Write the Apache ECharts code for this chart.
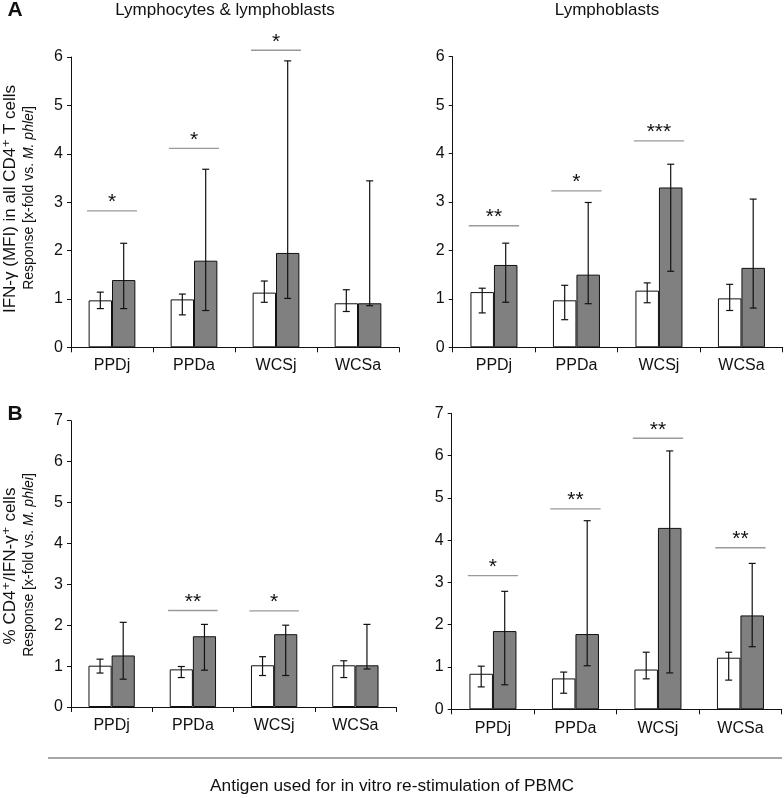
<!DOCTYPE html>
<html>
<head>
<meta charset="utf-8">
<script src="https://cdn.jsdelivr.net/npm/echarts@6/dist/echarts.min.js"></script>
<style>
  html, body { margin: 0; padding: 0; background: #fff; }
  #chart { width: 784px; height: 798px; }
</style>
</head>
<body>
<div id="chart"></div>
<script>
// categories (antigens)
const categories = ['PPDj', 'PPDa', 'WCSj', 'WCSa']
const ticksA = [0, 1, 2, 3, 4, 5, 6]
const ticksB = [0, 1, 2, 3, 4, 5, 6, 7]

// A, lymphocytes & lymphoblasts
const aLeftCtrl = [0.97, 0.99, 1.13, 0.91]
const aLeftCtrlLo = [0.80, 0.67, 0.93, 0.74]
const aLeftCtrlHi = [1.14, 1.10, 1.37, 1.19]
const aLeftAg = [1.39, 1.79, 1.95, 0.91]
const aLeftAgLo = [0.80, 0.76, 1.01, 0.86]
const aLeftAgHi = [2.15, 3.68, 5.92, 3.44]
const aLeftSigLevel = [2.82, 4.11, 6.14, null]
const aLeftSigMark = ['*', '*', '*', '']

// A, lymphoblasts
const aRightCtrl = [1.14, 0.97, 1.17, 1.01]
const aRightCtrlLo = [0.71, 0.57, 0.92, 0.76]
const aRightCtrlHi = [1.22, 1.28, 1.33, 1.30]
const aRightAg = [1.70, 1.50, 3.30, 1.64]
const aRightAgLo = [0.93, 0.90, 1.57, 0.81]
const aRightAgHi = [2.15, 2.99, 3.78, 3.06]
const aRightSigLevel = [2.51, 3.23, 4.26, null]
const aRightSigMark = ['**', '*', '***', '']

// B, lymphocytes & lymphoblasts
const bLeftCtrl = [1.01, 0.92, 1.02, 1.02]
const bLeftCtrlLo = [0.83, 0.72, 0.77, 0.72]
const bLeftCtrlHi = [1.17, 0.99, 1.23, 1.13]
const bLeftAg = [1.26, 1.73, 1.78, 1.02]
const bLeftAgLo = [0.68, 0.90, 0.77, 0.93]
const bLeftAgHi = [2.07, 2.02, 2.00, 2.02]
const bLeftSigLevel = [null, 2.36, 2.35, null]
const bLeftSigMark = ['', '**', '*', '']

// B, lymphoblasts
const bRightCtrl = [0.84, 0.73, 0.94, 1.22]
const bRightCtrlLo = [0.53, 0.38, 0.72, 0.69]
const bRightCtrlHi = [1.02, 0.88, 1.35, 1.35]
const bRightAg = [1.85, 1.78, 4.29, 2.22]
const bRightAgLo = [0.58, 1.03, 0.86, 1.48]
const bRightAgHi = [2.79, 4.46, 6.11, 3.45]
const bRightSigLevel = [3.16, 4.74, 6.41, 3.82]
const bRightSigMark = ['*', '**', '**', '**']

const FONT = '"Liberation Sans", Arial, "DejaVu Sans", sans-serif'
const BAR_FRAC = 0.285   // one bar as share of the category width

const myChart = echarts.init(document.getElementById('chart'))

// one bar pair + error bars + significance lines for a panel
function panelSeries (idx, ctrl, ctrlLo, ctrlHi, ag, agLo, agHi, sigLevel, sigMark) {
  const errData = []
  categories.forEach((c, i) => {
    errData.push([i, ctrlLo[i], ctrlHi[i], -1])
    errData.push([i, agLo[i], agHi[i], 1])
  })
  const sigData = []
  const sigText = []
  sigLevel.forEach((v, i) => {
    if (v !== null) {
      sigData.push([i, v])
      sigText.push(sigMark[i])
    }
  })
  return [
    {
      type: 'bar',
      xAxisIndex: idx,
      yAxisIndex: idx,
      data: ctrl,
      barGap: '0%',
      barCategoryGap: '43%',
      itemStyle: { color: '#ffffff', borderColor: '#111', borderWidth: 1 },
      silent: true
    },
    {
      type: 'bar',
      xAxisIndex: idx,
      yAxisIndex: idx,
      data: ag,
      barGap: '0%',
      barCategoryGap: '43%',
      itemStyle: { color: '#808080', borderColor: '#111', borderWidth: 1 },
      silent: true
    },
    {
      type: 'custom',
      xAxisIndex: idx,
      yAxisIndex: idx,
      data: errData,
      silent: true,
      z: 5,
      renderItem: function (params, api) {
        const cat = api.value(0)
        const bw = api.size([1, 0])[0]
        const x = api.coord([cat, 0])[0] + api.value(3) * bw * BAR_FRAC / 2
        const yLo = api.coord([cat, api.value(1)])[1]
        const yHi = api.coord([cat, api.value(2)])[1]
        const cap = 3.5
        const st = { stroke: '#111', lineWidth: 1.2 }
        return {
          type: 'group',
          children: [
            { type: 'line', shape: { x1: x, y1: yLo, x2: x, y2: yHi }, style: st },
            { type: 'line', shape: { x1: x - cap, y1: yLo, x2: x + cap, y2: yLo }, style: st },
            { type: 'line', shape: { x1: x - cap, y1: yHi, x2: x + cap, y2: yHi }, style: st }
          ]
        }
      }
    },
    {
      type: 'custom',
      xAxisIndex: idx,
      yAxisIndex: idx,
      data: sigData,
      silent: true,
      clip: false,
      z: 5,
      renderItem: function (params, api) {
        const cat = api.value(0)
        const bw = api.size([1, 0])[0]
        const p = api.coord([cat, api.value(1)])
        const half = bw * 0.305
        return {
          type: 'group',
          children: [
            { type: 'line', shape: { x1: p[0] - half, y1: p[1], x2: p[0] + half, y2: p[1] },
              style: { stroke: '#9a9a9a', lineWidth: 1.3 } },
            { type: 'text', x: p[0], y: p[1] - 19,
              style: { text: sigText[params.dataIndex], font: '21px ' + FONT, fill: '#111',
                align: 'center', verticalAlign: 'top' } }
          ]
        }
      }
    }
  ]
}

const grids = [
  { left: 71, top: 57, width: 328, height: 290.3 },
  { left: 452.7, top: 56.7, width: 330, height: 290.6 },
  { left: 71, top: 420.7, width: 325, height: 286.3 },
  { left: 451.7, top: 413.3, width: 330, height: 296 }
]

const xAxes = grids.map((g, i) => ({
  type: 'category',
  gridIndex: i,
  data: categories,
  axisLine: { lineStyle: { color: '#111', width: 1 } },
  axisTick: { show: true, length: 5, lineStyle: { color: '#111' } },
  axisLabel: { color: '#111', fontSize: 16, fontFamily: FONT, margin: i < 2 ? 10 : 11 }
}))

const yAxes = grids.map((g, i) => {
  const t = i < 2 ? ticksA : ticksB
  return {
    type: 'value',
    gridIndex: i,
    min: t[0],
    max: t[t.length - 1],
    interval: 1,
    splitLine: { show: false },
    axisLine: { show: true, lineStyle: { color: '#111', width: 1 } },
    axisTick: { show: true, length: 4, lineStyle: { color: '#111' } },
    axisLabel: { color: '#111', fontSize: 16, fontFamily: FONT, margin: 8 }
  }
})

const series = [].concat(
  panelSeries(0, aLeftCtrl, aLeftCtrlLo, aLeftCtrlHi, aLeftAg, aLeftAgLo, aLeftAgHi, aLeftSigLevel, aLeftSigMark),
  panelSeries(1, aRightCtrl, aRightCtrlLo, aRightCtrlHi, aRightAg, aRightAgLo, aRightAgHi, aRightSigLevel, aRightSigMark),
  panelSeries(2, bLeftCtrl, bLeftCtrlLo, bLeftCtrlHi, bLeftAg, bLeftAgLo, bLeftAgHi, bLeftSigLevel, bLeftSigMark),
  panelSeries(3, bRightCtrl, bRightCtrlLo, bRightCtrlHi, bRightAg, bRightAgLo, bRightAgHi, bRightSigLevel, bRightSigMark)
)

const richLabel = {
  i: { fontStyle: 'italic', fontSize: 14, fontFamily: FONT, fill: '#111' }
}

myChart.setOption({
  animation: false,
  backgroundColor: '#ffffff',
  grid: grids,
  xAxis: xAxes,
  yAxis: yAxes,
  series: series,
  graphic: [
    { type: 'text', x: 15, y: 10,
      style: { text: 'A', font: 'bold 21px ' + FONT, fill: '#111', align: 'center', verticalAlign: 'middle' } },
    { type: 'text', x: 15, y: 414,
      style: { text: 'B', font: 'bold 21px ' + FONT, fill: '#111', align: 'center', verticalAlign: 'middle' } },
    { type: 'text', x: 225, y: 10,
      style: { text: 'Lymphocytes & lymphoblasts', font: '17px ' + FONT, fill: '#111', align: 'center', verticalAlign: 'middle' } },
    { type: 'text', x: 607, y: 10,
      style: { text: 'Lymphoblasts', font: '17px ' + FONT, fill: '#111', align: 'center', verticalAlign: 'middle' } },
    // y titles, panel A
    { type: 'text', x: 10, y: 199, rotation: Math.PI / 2,
      style: { text: 'IFN-γ (MFI) in all CD4⁺ T cells', font: '17px ' + FONT, fill: '#111', align: 'center', verticalAlign: 'middle' } },
    { type: 'text', x: 29, y: 198, rotation: Math.PI / 2,
      style: { text: 'Response [x-fold vs. {i|M. phlei}]', font: '14px ' + FONT, fill: '#111', align: 'center', verticalAlign: 'middle', rich: richLabel } },
    // y titles, panel B
    { type: 'text', x: 10, y: 566, rotation: Math.PI / 2,
      style: { text: '% CD4⁺/IFN-γ⁺ cells', font: '17px ' + FONT, fill: '#111', align: 'center', verticalAlign: 'middle' } },
    { type: 'text', x: 29, y: 565, rotation: Math.PI / 2,
      style: { text: 'Response [x-fold vs. {i|M. phlei}]', font: '14px ' + FONT, fill: '#111', align: 'center', verticalAlign: 'middle', rich: richLabel } },
    // separator + common x title
    { type: 'line', shape: { x1: 48, y1: 758, x2: 782, y2: 758 }, style: { stroke: '#8a8a8a', lineWidth: 1.3 } },
    { type: 'text', x: 392, y: 786,
      style: { text: 'Antigen used for in vitro re-stimulation of PBMC', font: '17.3px ' + FONT, fill: '#111', align: 'center', verticalAlign: 'middle' } }
  ]
})
</script>
</body>
</html>
